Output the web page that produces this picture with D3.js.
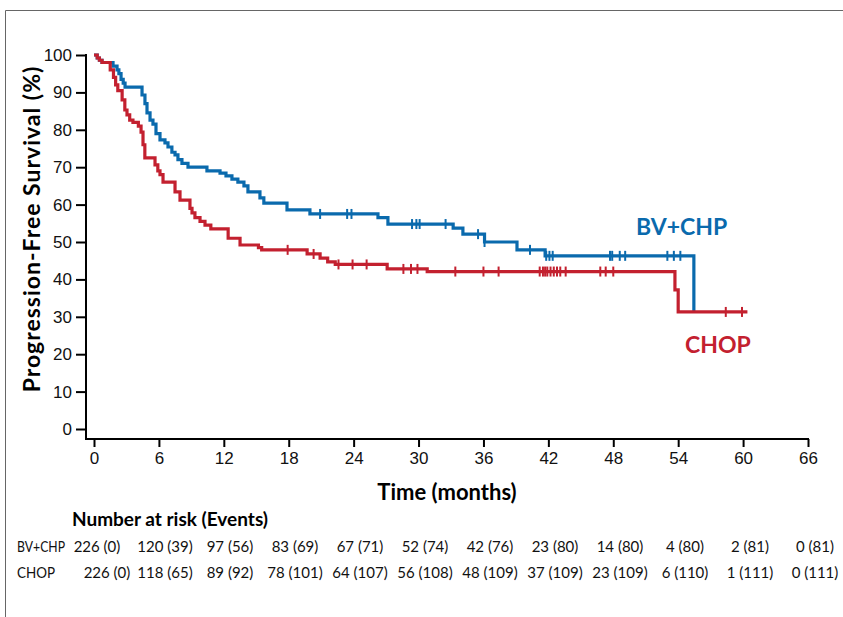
<!DOCTYPE html>
<html>
<head>
<meta charset="utf-8">
<script src="https://cdn.jsdelivr.net/npm/d3@7"></script>
<style>
  body { margin: 0; background: #fff; }
  svg { display: block; font-family: Lato, "Open Sans", sans-serif; }
</style>
</head>
<body>
<script>
// time points for axis and risk table
var timeTicks = [0, 6, 12, 18, 24, 30, 36, 42, 48, 54, 60, 66];
var yTicks = [0, 10, 20, 30, 40, 50, 60, 70, 80, 90, 100];

// Kaplan-Meier steps (time, % surviving)
var bvTimes = [0, 0.3, 0.5, 0.74, 1.76, 2.13, 2.3, 2.5, 2.7, 2.87, 4.44, 4.71, 4.9, 5.18, 5.45, 5.73, 6.1, 6.56, 6.84, 7.2, 7.49, 7.76, 8.13, 8.69, 10.44, 11.65, 12.2, 12.75, 13.3, 13.86, 14.23, 15.34, 15.7, 17.84, 19.96, 26.25, 27.17, 33.2, 34.1, 36.1, 39.1, 41.7, 55.45];
var bvSurv = [100, 99.2, 98.6, 98, 97, 96, 95, 93.5, 92.5, 91.4, 89.3, 87, 84.5, 82.6, 81.5, 79, 77.3, 76.5, 75.4, 74, 73.3, 72, 71, 70, 69, 68.4, 67.7, 66.8, 66, 65, 63.4, 61.8, 60.4, 58.6, 57.5, 56.5, 54.8, 53.7, 52.1, 50, 47.9, 46.3, 31.3];
var chopTimes = [0, 0.3, 0.5, 0.74, 1.5, 1.8, 2.0, 2.2, 2.6, 2.85, 3.05, 3.3, 3.6, 4.1, 4.35, 4.53, 4.7, 5.64, 5.9, 6.1, 6.38, 7.49, 7.95, 8.87, 9.06, 9.33, 9.8, 10.26, 10.8, 12.4, 13.5, 15.2, 15.5, 19.7, 20.9, 21.6, 22.3, 27.1, 30.8, 53.7, 54.0, 60.4];
var chopSurv = [100, 99.2, 98.6, 98, 96, 94, 92, 90.5, 88, 85.3, 84, 82.6, 82, 81, 79.4, 76, 72.5, 70.6, 69, 68, 66, 63.4, 61.2, 59, 57.8, 56.5, 55.5, 54.5, 53.5, 51, 49.2, 48.5, 47.9, 46.8, 45.7, 44.7, 44, 42.8, 42.1, 37.2, 31.3, 31.3];

// censored observations (months)
var bvCensor = [20.9, 23.4, 23.8, 29.4, 29.8, 30.1, 32.5, 35.5, 36.1, 40.3, 41.8, 42.1, 42.4, 47.7, 47.9, 48.6, 49.1, 53.0, 53.6, 54.2];
var chopCensor = [17.9, 20.3, 22.6, 23.9, 25.2, 28.6, 29.3, 29.9, 33.4, 36.0, 37.4, 41.2, 41.5, 41.7, 41.9, 42.2, 42.5, 42.8, 43.1, 43.6, 46.8, 47.3, 48.0, 58.4, 59.9];

// number at risk (events)
var bvAtRisk = [226, 120, 97, 83, 67, 52, 42, 23, 14, 4, 2, 0];
var bvEvents = [0, 39, 56, 69, 71, 74, 76, 80, 80, 80, 81, 81];
var chopAtRisk = [226, 118, 89, 78, 64, 56, 48, 37, 23, 6, 1, 0];
var chopEvents = [0, 65, 92, 101, 107, 108, 109, 109, 109, 110, 111, 111];

var blue = '#0a6aad';
var red = '#c3202f';

var width = 843, height = 617;

var svg = d3.select('body').append('svg')
  .attr('width', width)
  .attr('height', height);

// frame
svg.append('path')
  .attr('d', 'M5.5,' + height + 'V10.5H' + width)
  .attr('fill', 'none')
  .attr('stroke', '#666')
  .attr('stroke-width', 1);

var x = d3.scaleLinear().domain([0, 66]).range([94, 808]);
var y = d3.scaleLinear().domain([0, 100]).range([429, 55]);
var axisY = 439;

// y axis
var yAxis = svg.append('g')
  .attr('transform', 'translate(86,0)')
  .call(d3.axisLeft(y).tickValues(yTicks).tickSize(10).tickPadding(4).tickSizeOuter(0));
yAxis.select('.domain').remove();
yAxis.append('line')
  .attr('x1', 0).attr('x2', 0)
  .attr('y1', y(100) - 1).attr('y2', axisY)
  .attr('stroke', '#000').attr('stroke-width', 2);

// x axis
var xAxis = svg.append('g')
  .attr('transform', 'translate(0,' + axisY + ')')
  .call(d3.axisBottom(x).tickValues(timeTicks).tickSize(8).tickPadding(5));
xAxis.select('.domain').remove();
xAxis.append('line')
  .attr('x1', 85).attr('x2', x(66) + 1)
  .attr('stroke', '#000').attr('stroke-width', 2);

svg.selectAll('.tick line').attr('stroke', '#000').attr('stroke-width', 2);
svg.selectAll('.tick text')
  .attr('fill', '#111')
  .style('font-size', '17px');

// axis titles
svg.append('text')
  .attr('x', 447).attr('y', 500)
  .attr('text-anchor', 'middle')
  .style('font-size', '22px').style('font-weight', 'bold')
  .text('Time (months)');

svg.append('text')
  .attr('transform', 'translate(40,229) rotate(-90)')
  .attr('text-anchor', 'middle')
  .style('font-size', '23px').style('font-weight', 'bold')
  .style('letter-spacing', '1px')
  .text('Progression-Free Survival (%)');

// curves
var line = d3.line()
  .x(function(d) { return x(d[0]); })
  .y(function(d) { return y(d[1]); })
  .curve(d3.curveStepAfter);

function stepValue(times, surv, t) {
  var i = d3.bisectRight(times, t) - 1;
  return surv[Math.max(0, i)];
}

function drawArm(times, surv, censor, color) {
  var pts = times.map(function(t, i) { return [t, surv[i]]; });
  svg.append('path')
    .datum(pts)
    .attr('d', line)
    .attr('fill', 'none')
    .attr('stroke', color)
    .attr('stroke-width', 3.2);

  svg.append('g')
    .selectAll('line')
    .data(censor)
    .enter()
    .append('line')
    .attr('x1', function(d) { return x(d); })
    .attr('x2', function(d) { return x(d); })
    .attr('y1', function(d) { return y(stepValue(times, surv, d)) - 5; })
    .attr('y2', function(d) { return y(stepValue(times, surv, d)) + 5; })
    .attr('stroke', color)
    .attr('stroke-width', 2);
}

drawArm(bvTimes, bvSurv, bvCensor, blue);
drawArm(chopTimes, chopSurv, chopCensor, red);

// arm labels
svg.append('text')
  .attr('x', 636).attr('y', 235)
  .attr('fill', blue)
  .style('font-size', '23px').style('font-weight', 'bold')
  .text('BV+CHP');
svg.append('text')
  .attr('x', 685).attr('y', 353)
  .attr('fill', red)
  .style('font-size', '23px').style('font-weight', 'bold')
  .text('CHOP');

// risk table
var riskX = d3.scaleLinear().domain([0, 66]).range([100, 815]);

svg.append('text')
  .attr('x', 72).attr('y', 526)
  .style('font-size', '19px').style('font-weight', 'bold')
  .text('Number at risk (Events)');

function riskRow(label, atRisk, events, yPos, firstX) {
  var g = svg.append('g').style('font-size', '15px').attr('fill', '#111');
  g.append('text')
    .attr('x', 17).attr('y', yPos)
    .attr('textLength', label.length > 4 ? 48 : 38)
    .attr('lengthAdjust', 'spacingAndGlyphs')
    .text(label);
  g.selectAll('text.val')
    .data(timeTicks)
    .enter()
    .append('text')
    .classed('val', true)
    .attr('x', function(d, i) { return i === 0 ? firstX : riskX(d); })
    .attr('y', yPos)
    .attr('text-anchor', 'middle')
    .text(function(d, i) { return atRisk[i] + ' (' + events[i] + ')'; });
}

riskRow('BV+CHP', bvAtRisk, bvEvents, 552, 97);
riskRow('CHOP', chopAtRisk, chopEvents, 578, 107);
</script>
</body>
</html>
